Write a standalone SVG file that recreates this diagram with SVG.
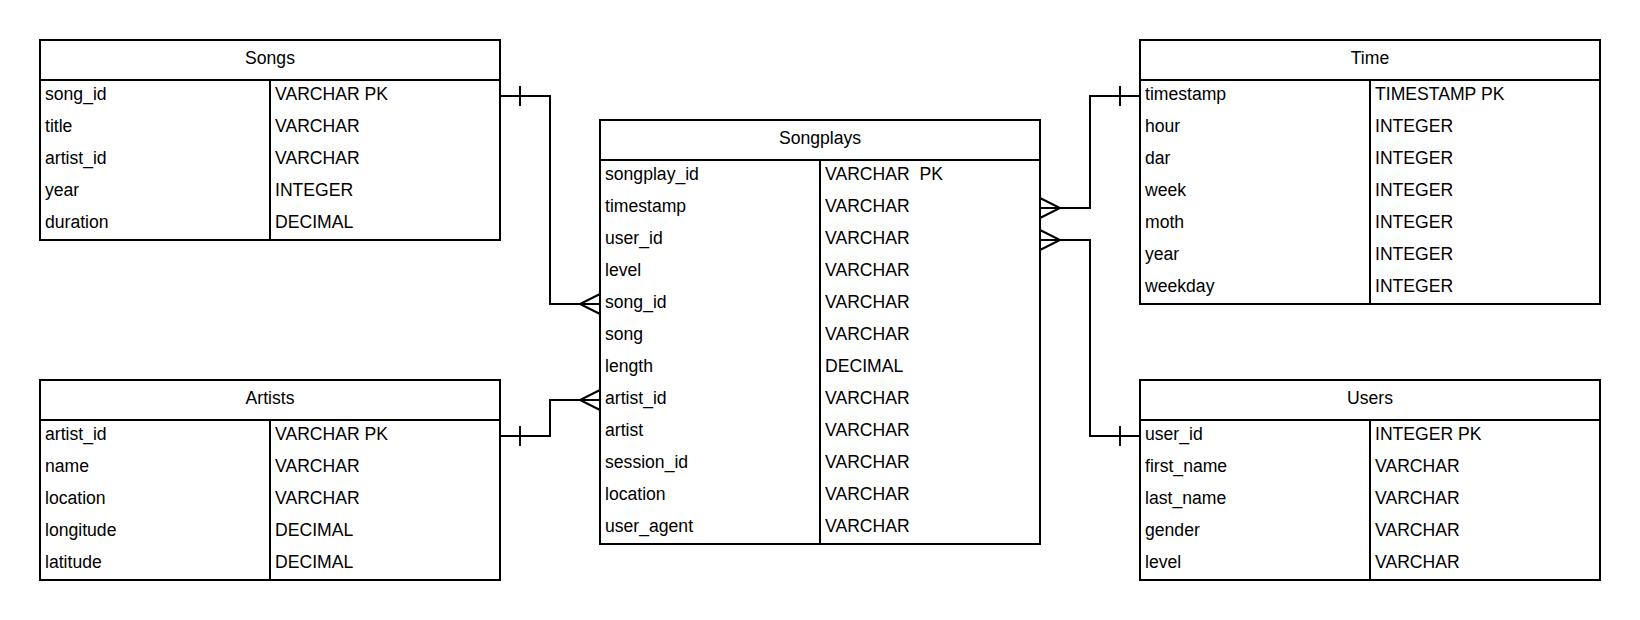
<svg xmlns="http://www.w3.org/2000/svg" width="1640" height="620" viewBox="0 0 1640 620">
<style>
.bg{fill:#fff}
.box{fill:#fff;stroke:#000;stroke-width:2}
.ln{fill:none;stroke:#000;stroke-width:2}
.t{font-family:"Liberation Sans",Arial,sans-serif;font-size:17.6px;fill:#000;white-space:pre}
.h{text-anchor:middle}
.c{fill:none;stroke:#000;stroke-width:2}
</style>
<rect class="bg" x="0" y="0" width="1640" height="620"/>

<g id="songs">
<rect class="box" x="40" y="40" width="460" height="200"/>
<line class="ln" x1="40" y1="80" x2="500" y2="80"/>
<line class="ln" x1="270" y1="80" x2="270" y2="240"/>
<text class="t h" x="270" y="64">Songs</text>
<text class="t" x="45" y="100">song_id</text><text class="t" x="275" y="100">VARCHAR PK</text>
<text class="t" x="45" y="132">title</text><text class="t" x="275" y="132">VARCHAR</text>
<text class="t" x="45" y="164">artist_id</text><text class="t" x="275" y="164">VARCHAR</text>
<text class="t" x="45" y="196">year</text><text class="t" x="275" y="196">INTEGER</text>
<text class="t" x="45" y="228">duration</text><text class="t" x="275" y="228">DECIMAL</text>
</g>

<g id="artists">
<rect class="box" x="40" y="380" width="460" height="200"/>
<line class="ln" x1="40" y1="420" x2="500" y2="420"/>
<line class="ln" x1="270" y1="420" x2="270" y2="580"/>
<text class="t h" x="270" y="404">Artists</text>
<text class="t" x="45" y="440">artist_id</text><text class="t" x="275" y="440">VARCHAR PK</text>
<text class="t" x="45" y="472">name</text><text class="t" x="275" y="472">VARCHAR</text>
<text class="t" x="45" y="504">location</text><text class="t" x="275" y="504">VARCHAR</text>
<text class="t" x="45" y="536">longitude</text><text class="t" x="275" y="536">DECIMAL</text>
<text class="t" x="45" y="568">latitude</text><text class="t" x="275" y="568">DECIMAL</text>
</g>

<g id="songplays">
<rect class="box" x="600" y="120" width="440" height="424"/>
<line class="ln" x1="600" y1="160" x2="1040" y2="160"/>
<line class="ln" x1="820" y1="160" x2="820" y2="544"/>
<text class="t h" x="820" y="144">Songplays</text>
<text class="t" x="605" y="180">songplay_id</text><text class="t" x="825" y="180" xml:space="preserve">VARCHAR  PK</text>
<text class="t" x="605" y="212">timestamp</text><text class="t" x="825" y="212">VARCHAR</text>
<text class="t" x="605" y="244">user_id</text><text class="t" x="825" y="244">VARCHAR</text>
<text class="t" x="605" y="276">level</text><text class="t" x="825" y="276">VARCHAR</text>
<text class="t" x="605" y="308">song_id</text><text class="t" x="825" y="308">VARCHAR</text>
<text class="t" x="605" y="340">song</text><text class="t" x="825" y="340">VARCHAR</text>
<text class="t" x="605" y="372">length</text><text class="t" x="825" y="372">DECIMAL</text>
<text class="t" x="605" y="404">artist_id</text><text class="t" x="825" y="404">VARCHAR</text>
<text class="t" x="605" y="436">artist</text><text class="t" x="825" y="436">VARCHAR</text>
<text class="t" x="605" y="468">session_id</text><text class="t" x="825" y="468">VARCHAR</text>
<text class="t" x="605" y="500">location</text><text class="t" x="825" y="500">VARCHAR</text>
<text class="t" x="605" y="532">user_agent</text><text class="t" x="825" y="532">VARCHAR</text>
</g>

<g id="time">
<rect class="box" x="1140" y="40" width="460" height="264"/>
<line class="ln" x1="1140" y1="80" x2="1600" y2="80"/>
<line class="ln" x1="1370" y1="80" x2="1370" y2="304"/>
<text class="t h" x="1370" y="64">Time</text>
<text class="t" x="1145" y="100">timestamp</text><text class="t" x="1375" y="100">TIMESTAMP PK</text>
<text class="t" x="1145" y="132">hour</text><text class="t" x="1375" y="132">INTEGER</text>
<text class="t" x="1145" y="164">dar</text><text class="t" x="1375" y="164">INTEGER</text>
<text class="t" x="1145" y="196">week</text><text class="t" x="1375" y="196">INTEGER</text>
<text class="t" x="1145" y="228">moth</text><text class="t" x="1375" y="228">INTEGER</text>
<text class="t" x="1145" y="260">year</text><text class="t" x="1375" y="260">INTEGER</text>
<text class="t" x="1145" y="292">weekday</text><text class="t" x="1375" y="292">INTEGER</text>
</g>

<g id="users">
<rect class="box" x="1140" y="380" width="460" height="200"/>
<line class="ln" x1="1140" y1="420" x2="1600" y2="420"/>
<line class="ln" x1="1370" y1="420" x2="1370" y2="580"/>
<text class="t h" x="1370" y="404">Users</text>
<text class="t" x="1145" y="440">user_id</text><text class="t" x="1375" y="440">INTEGER PK</text>
<text class="t" x="1145" y="472">first_name</text><text class="t" x="1375" y="472">VARCHAR</text>
<text class="t" x="1145" y="504">last_name</text><text class="t" x="1375" y="504">VARCHAR</text>
<text class="t" x="1145" y="536">gender</text><text class="t" x="1375" y="536">VARCHAR</text>
<text class="t" x="1145" y="568">level</text><text class="t" x="1375" y="568">VARCHAR</text>
</g>

<g id="connectors">
<path class="c" d="M500,96 H550 V304 H600"/>
<path class="c" d="M520,86 V106"/>
<path class="c" d="M600,294 L580,304 L600,314"/>

<path class="c" d="M500,436 H550 V400 H600"/>
<path class="c" d="M520,426 V446"/>
<path class="c" d="M600,390 L580,400 L600,410"/>

<path class="c" d="M1040,208 H1090 V96 H1140"/>
<path class="c" d="M1120,86 V106"/>
<path class="c" d="M1040,198 L1060,208 L1040,218"/>

<path class="c" d="M1040,240 H1090 V436 H1140"/>
<path class="c" d="M1120,426 V446"/>
<path class="c" d="M1040,230 L1060,240 L1040,250"/>
</g>
</svg>
